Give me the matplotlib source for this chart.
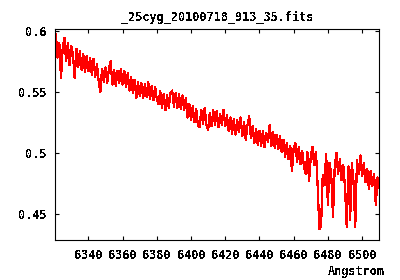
import numpy as np
import matplotlib
matplotlib.use('Agg')
import matplotlib.pyplot as plt

plt.rcParams['font.family'] = 'DejaVu Sans Mono'
plt.rcParams['font.weight'] = 'bold'
plt.rcParams['font.size'] = 8.5
plt.rcParams['text.antialiased'] = False

title = '_25cyg_20100718_913_35.fits'
xlabel = 'Angstrom'

# flux, one value per Angstrom from 6321 to 6510
flux = [
    0.597, 0.578, 0.590, 0.561, 0.586, 0.594, 0.575, 0.590, 0.572, 0.587,
    0.580, 0.561, 0.585, 0.570, 0.583, 0.568, 0.581, 0.566, 0.579, 0.567,
    0.578, 0.564, 0.577, 0.562, 0.573, 0.559, 0.550, 0.569, 0.558, 0.570,
    0.557, 0.569, 0.575, 0.556, 0.568, 0.555, 0.567, 0.557, 0.569, 0.556,
    0.567, 0.554, 0.565, 0.551, 0.562, 0.549, 0.560, 0.545, 0.558, 0.547,
    0.557, 0.545, 0.556, 0.546, 0.558, 0.544, 0.555, 0.543, 0.554, 0.544,
    0.540, 0.551, 0.537, 0.548, 0.535, 0.547, 0.537, 0.549, 0.551, 0.538,
    0.549, 0.537, 0.548, 0.536, 0.547, 0.535, 0.545, 0.529, 0.540, 0.527,
    0.538, 0.525, 0.536, 0.523, 0.521, 0.535, 0.524, 0.537, 0.523, 0.519,
    0.533, 0.522, 0.535, 0.523, 0.534, 0.521, 0.532, 0.523, 0.535, 0.522,
    0.531, 0.518, 0.529, 0.516, 0.528, 0.515, 0.527, 0.517, 0.529, 0.514,
    0.525, 0.511, 0.523, 0.530, 0.512, 0.522, 0.508, 0.520, 0.507, 0.518,
    0.506, 0.518, 0.505, 0.516, 0.509, 0.523, 0.506, 0.517, 0.504, 0.515,
    0.503, 0.514, 0.501, 0.511, 0.497, 0.508, 0.495, 0.506, 0.485, 0.504,
    0.508, 0.493, 0.505, 0.491, 0.502, 0.489, 0.483, 0.501, 0.477, 0.497,
    0.505, 0.490, 0.501, 0.474, 0.438, 0.440, 0.482, 0.474, 0.499, 0.458,
    0.492, 0.481, 0.448, 0.489, 0.500, 0.483, 0.495, 0.478, 0.490, 0.472,
    0.440, 0.489, 0.445, 0.492, 0.476, 0.440, 0.494, 0.483, 0.498, 0.481,
    0.492, 0.476, 0.487, 0.471, 0.485, 0.473, 0.483, 0.458, 0.480, 0.472,
]
wave = np.linspace(6321, 6510, len(flux))

xticks = [6340, 6360, 6380, 6400, 6420, 6440, 6460, 6480, 6500]
yticks = [0.45, 0.5, 0.55, 0.6]
yticklabels = ['0.45', '0.5', '0.55', '0.6']

fig = plt.figure(figsize=(4, 2.8), dpi=100)
ax = fig.add_axes([0.138, 0.143, 0.810, 0.752])
ax.plot(wave, flux, color='#ff0000', lw=0.9, antialiased=False)

ax.set_xlim(6320.6, 6510)
ax.set_ylim(0.429, 0.601)
ax.set_xticks(xticks)
ax.set_xticklabels([str(t) for t in xticks])
ax.set_yticks(yticks)
ax.set_yticklabels(yticklabels)
ax.tick_params(direction='in', length=3, width=0.8, top=True, right=True)
ax.tick_params(axis='x', pad=6.5)
ax.tick_params(axis='y', pad=6)
for s in ax.spines.values():
    s.set_linewidth(0.8)

ax.set_title(title, fontsize=8.5, fontweight='bold', pad=6)
fig.text(0.9625, 0.032, xlabel, ha='right', va='center', fontsize=8.5, fontweight='bold')

fig.savefig('out.png', dpi=100)
